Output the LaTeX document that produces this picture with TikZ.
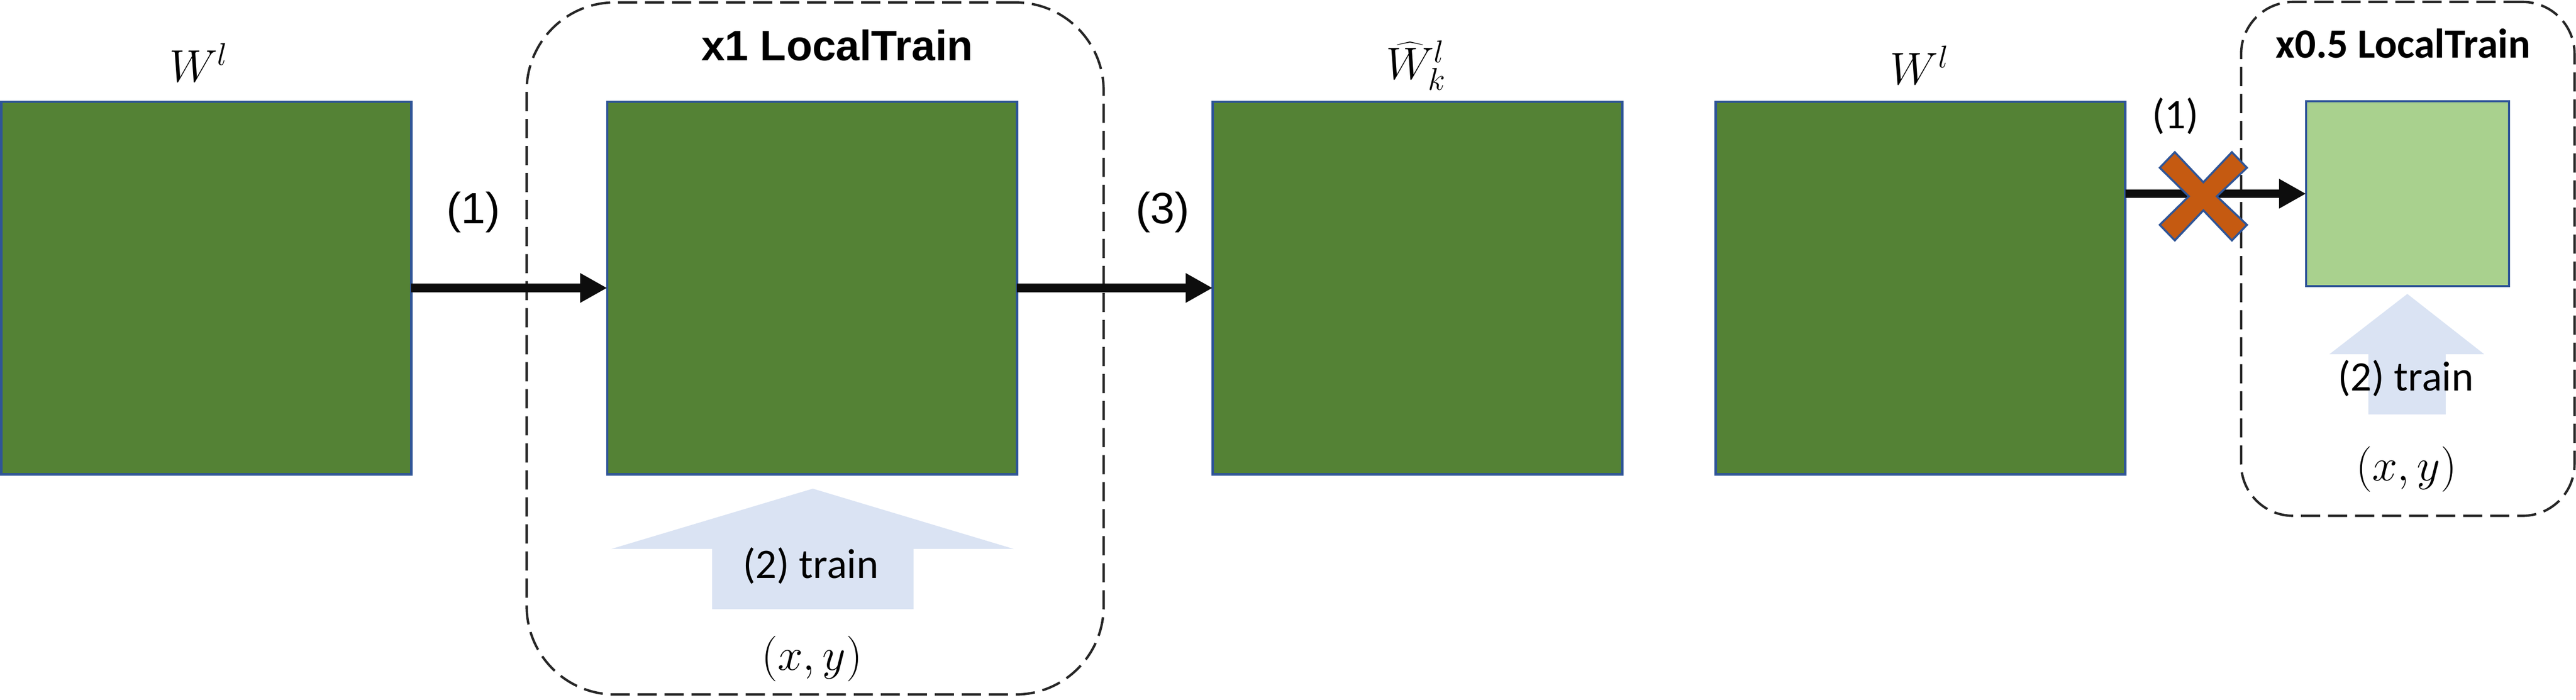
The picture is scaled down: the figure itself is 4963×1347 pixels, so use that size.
\documentclass[tikz,border=0pt]{standalone}
\usepackage{fontspec}
\newfontfamily\arialfont{Liberation Sans}
\newfontfamily\calfont{Carlito}
\usetikzlibrary{arrows.meta}
\definecolor{dgreen}{HTML}{548235}
\definecolor{lgreen}{HTML}{A9D18E}
\definecolor{bblue}{HTML}{2F5597}
\definecolor{lblue}{HTML}{DAE3F3}
\definecolor{xorange}{HTML}{C55A11}
\definecolor{dgray}{HTML}{262626}
\tikzset{
  bigbox/.style={draw=bblue, line width=1.3pt, fill=dgreen, minimum width=7.89cm, minimum height=7.17cm, inner sep=0pt, outer sep=0pt},
  smallbox/.style={draw=bblue, line width=1.3pt, fill=lgreen, minimum width=3.91cm, minimum height=3.56cm, inner sep=0pt, outer sep=0pt},
  grp/.style={draw=dgray, line width=1.3pt, dash pattern=on 10.5pt off 4.3pt, inner sep=0pt},
  conn/.style={line width=4.8pt, draw=black!95, -{Triangle[length=14.8pt,width=15.2pt]}},
  txt/.style={anchor=base, inner sep=0pt},
  arlbl/.style={txt, font=\arialfont\fontsize{24pt}{28pt}\selectfont},
  callbl/.style={txt, font=\calfont\fontsize{23pt}{27pt}\selectfont},
  mathlbl/.style={txt, font=\fontsize{25pt}{30pt}\selectfont},
  xylbl/.style={txt, font=\fontsize{24pt}{29pt}\selectfont},
  uparrow/.style={fill=lblue, draw=none},
}
\begin{document}
\begin{tikzpicture}[x=0.01cm,y=-0.01cm]
\useasboundingbox (0,0) rectangle (4963,1347);
% dashed groups
\node[grp, minimum width=11.11cm, minimum height=13.32cm, rounded corners=1.7cm] (g1) at (1570.5,671) {};
\node[grp, minimum width=6.42cm, minimum height=9.89cm, rounded corners=1.0cm] (g2) at (4639,498.5) {};
% boxes
\node[bigbox] (b1) at (397.5,554.5) {};
\node[bigbox] (b2) at (1564.5,554.5) {};
\node[bigbox] (b3) at (2731,554.5) {};
\node[bigbox] (b4) at (3700,554.5) {};
\node[smallbox] (b5) at (4638.5,373) {};
% arrows
\draw[conn] (b1) -- (b2);
\draw[conn] (b2) -- (b3);
\draw[conn] (b4.east |- b5.west) -- (b5.west);
% cross
\filldraw[fill=xorange, draw=bblue, line width=1.1pt]
  (4190,293) -- (4245,351) -- (4300,293) -- (4329,323) -- (4271,378) -- (4329,433)
  -- (4300,463) -- (4245,405) -- (4190,463) -- (4161,433) -- (4217,378) -- (4161,323) -- cycle;
% training arrows
\fill[uparrow] (1566,941) -- (1953,1057) -- (1760,1057) -- (1760,1173) -- (1372,1173) -- (1372,1057) -- (1178,1057) -- cycle;
\fill[uparrow] (4638,566) -- (4786,682) -- (4712,682) -- (4712,798) -- (4563,798) -- (4563,682) -- (4488,682) -- cycle;
% labels
\node[mathlbl] (l1) at (383,157) {$W^l$};
\node[mathlbl] (l3) at (2728,152) {$\widehat{W}_k^l$};
\node[mathlbl] (l4) at (3698,162) {$W^l$};
\node[txt, font=\arialfont\bfseries\fontsize{23.3pt}{28pt}\selectfont] (h1) at (1613,116) {x1 LocalTrain};
\node[txt, font=\calfont\bfseries\fontsize{22.8pt}{27pt}\selectfont] (h2) at (4630,111) {x0.5 LocalTrain};
\node[arlbl] (a1) at (912,430) {(1)};
\node[arlbl] (a3) at (2240,430) {(3)};
\node[callbl] (a1b) at (4191,247) {(1)};
\node[callbl] (tr1) at (1562,1113) {(2) train};
\node[callbl] (tr2) at (4635,752) {(2) train};
\node[xylbl] (xy1) at (1564,1290) {$(x,y)$};
\node[xylbl] (xy2) at (4636,925) {$(x,y)$};
\end{tikzpicture}
\end{document}
